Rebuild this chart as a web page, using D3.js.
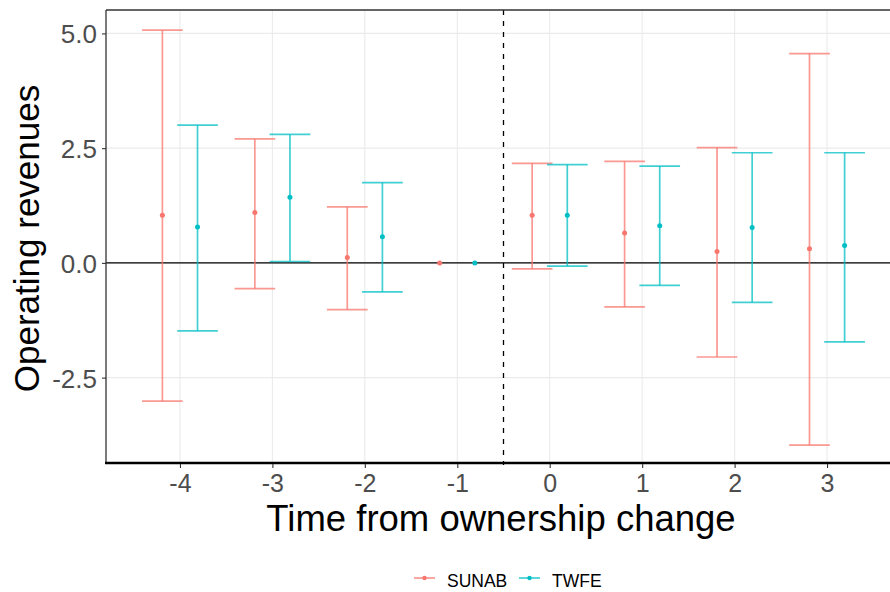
<!DOCTYPE html>
<html>
<head>
<meta charset="utf-8">
<script src="https://cdn.jsdelivr.net/npm/d3@7"></script>
<style>
  html, body { margin: 0; padding: 0; background: #fff; }
  svg { display: block; }
  text { font-family: "Liberation Sans", Arial, sans-serif; }
</style>
</head>
<body>
<div id="chart"></div>
<script>
// ---- data ----
const periods = [-4, -3, -2, -1, 0, 1, 2, 3];
const seriesNames = ["SUNAB", "TWFE"];
const sunabEst = [1.04, 1.10, 0.12, 0.00, 1.04, 0.65, 0.25, 0.31];
const sunabLow = [-3.01, -0.56, -1.02, null, -0.13, -0.96, -2.05, -3.97];
const sunabHigh = [5.07, 2.70, 1.22, null, 2.17, 2.21, 2.51, 4.56];
const twfeEst = [0.78, 1.43, 0.57, 0.00, 1.04, 0.81, 0.77, 0.38];
const twfeLow = [-1.48, 0.03, -0.63, null, -0.07, -0.49, -0.86, -1.72];
const twfeHigh = [3.00, 2.80, 1.75, null, 2.14, 2.11, 2.40, 2.40];
const xTicks = [-4, -3, -2, -1, 0, 1, 2, 3];
const yTicks = [-2.5, 0, 2.5, 5];
const yTickLabels = ["-2.5", "0.0", "2.5", "5.0"];
const xTitle = "Time from ownership change";
const yTitle = "Operating revenues";

const colors = { SUNAB: "#F8766D", TWFE: "#00BFC4" };
const dodge = { SUNAB: -0.19, TWFE: 0.19 };

const rows = [];
periods.forEach((p, i) => {
  rows.push({ s: "SUNAB", p, est: sunabEst[i], lo: sunabLow[i], hi: sunabHigh[i] });
  rows.push({ s: "TWFE", p, est: twfeEst[i], lo: twfeLow[i], hi: twfeHigh[i] });
});

// ---- layout ----
const W = 890, H = 592;
const panel = { left: 106, right: 901, top: 10, bottom: 463 };

const x = d3.scaleLinear().domain([-4.80, 3.80]).range([panel.left, panel.right]);
const y = d3.scaleLinear().domain([-4.36, 5.51]).range([panel.bottom, panel.top]);

const svg = d3.select("#chart").append("svg").attr("width", W).attr("height", H);

svg.append("defs").append("clipPath").attr("id", "clip")
  .append("rect").attr("x", panel.left).attr("y", panel.top)
  .attr("width", panel.right - panel.left).attr("height", panel.bottom - panel.top);

const g = svg.append("g");

// grid
g.selectAll("line.gx").data(xTicks).enter().append("line")
  .attr("x1", d => x(d)).attr("x2", d => x(d))
  .attr("y1", panel.top).attr("y2", panel.bottom)
  .attr("stroke", "#EBEBEB").attr("stroke-width", 1.1);
g.selectAll("line.gy").data(yTicks).enter().append("line")
  .attr("x1", panel.left).attr("x2", panel.right)
  .attr("y1", d => y(d)).attr("y2", d => y(d))
  .attr("stroke", "#EBEBEB").attr("stroke-width", 1.1);

// zero line and dashed line
g.append("line").attr("x1", panel.left).attr("x2", panel.right)
  .attr("y1", y(0)).attr("y2", y(0)).attr("stroke", "#000").attr("stroke-width", 1.2);
g.append("line").attr("x1", x(-0.5)).attr("x2", x(-0.5))
  .attr("y1", panel.top).attr("y2", panel.bottom + 2)
  .attr("stroke", "#000").attr("stroke-width", 1.3).attr("stroke-dasharray", "5,6");

// error bars
const capHalf = 0.22;
const bars = rows.filter(r => r.lo !== null);
const eb = g.append("g").attr("clip-path", "url(#clip)");
bars.forEach(r => {
  const cx = x(r.p + dodge[r.s]);
  const col = colors[r.s];
  const grp = eb.append("g").attr("stroke", col).attr("stroke-width", 1.7).attr("stroke-opacity", 0.75).attr("fill", "none");
  grp.append("line").attr("x1", cx).attr("x2", cx).attr("y1", y(r.lo)).attr("y2", y(r.hi));
  grp.append("line").attr("x1", x(r.p + dodge[r.s] - capHalf)).attr("x2", x(r.p + dodge[r.s] + capHalf))
    .attr("y1", y(r.lo)).attr("y2", y(r.lo));
  grp.append("line").attr("x1", x(r.p + dodge[r.s] - capHalf)).attr("x2", x(r.p + dodge[r.s] + capHalf))
    .attr("y1", y(r.hi)).attr("y2", y(r.hi));
});

// points
g.selectAll("circle.pt").data(rows).enter().append("circle")
  .attr("cx", d => x(d.p + dodge[d.s])).attr("cy", d => y(d.est))
  .attr("r", 2.5).attr("fill", d => colors[d.s]);

// axes lines / border
svg.append("line").attr("x1", panel.left).attr("x2", W).attr("y1", panel.top).attr("y2", panel.top)
  .attr("stroke", "#333").attr("stroke-width", 1.3);
svg.append("line").attr("x1", panel.left).attr("x2", panel.left).attr("y1", panel.top).attr("y2", panel.bottom)
  .attr("stroke", "#333").attr("stroke-width", 1.3);
svg.append("line").attr("x1", panel.left - 1).attr("x2", W).attr("y1", panel.bottom).attr("y2", panel.bottom)
  .attr("stroke", "#000").attr("stroke-width", 2.4);

// axes (ticks and labels)
const xAxis = d3.axisBottom(x).tickValues(xTicks).tickSize(4).tickPadding(6).tickFormat(d => String(d));
const xg = svg.append("g").attr("transform", `translate(0,${panel.bottom + 1})`).call(xAxis);
xg.select(".domain").remove();
xg.selectAll(".tick line").attr("stroke", "#333").attr("stroke-width", 1.1);
xg.selectAll(".tick text").attr("fill", "#4D4D4D").attr("font-size", 25)
  .attr("font-family", "Liberation Sans, Arial, sans-serif");

const yAxis = d3.axisLeft(y).tickValues(yTicks).tickSize(4).tickPadding(5)
  .tickFormat((d, i) => yTickLabels[i]);
const yg = svg.append("g").attr("transform", `translate(${panel.left},0)`).call(yAxis);
yg.select(".domain").remove();
yg.selectAll(".tick line").attr("stroke", "#333").attr("stroke-width", 1.1);
yg.selectAll(".tick text").attr("fill", "#4D4D4D").attr("font-size", 26)
  .attr("font-family", "Liberation Sans, Arial, sans-serif").attr("dy", "0.36em");

// titles
svg.append("text").attr("x", 501).attr("y", 530.5)
  .attr("text-anchor", "middle").attr("font-size", 36.5).attr("fill", "#000").text(xTitle);
svg.append("text").attr("transform", `translate(39,${(panel.top + panel.bottom) / 2 + 2}) rotate(-90)`)
  .attr("text-anchor", "middle").attr("font-size", 35).attr("fill", "#000").text(yTitle);

// legend
const legendItems = [
  { name: seriesNames[0], kx: 414, tx: 447 },
  { name: seriesNames[1], kx: 519, tx: 552 }
];
const lg = svg.append("g");
legendItems.forEach(it => {
  lg.append("line").attr("x1", it.kx).attr("x2", it.kx + 21).attr("y1", 578).attr("y2", 578)
    .attr("stroke", colors[it.name]).attr("stroke-width", 1.6).attr("stroke-opacity", 0.8);
  lg.append("circle").attr("cx", it.kx + 10.5).attr("cy", 578).attr("r", 2.2).attr("fill", colors[it.name]);
  lg.append("text").attr("x", it.tx).attr("y", 586.5).attr("font-size", 17.5).attr("fill", "#000").text(it.name);
});
</script>
</body>
</html>
